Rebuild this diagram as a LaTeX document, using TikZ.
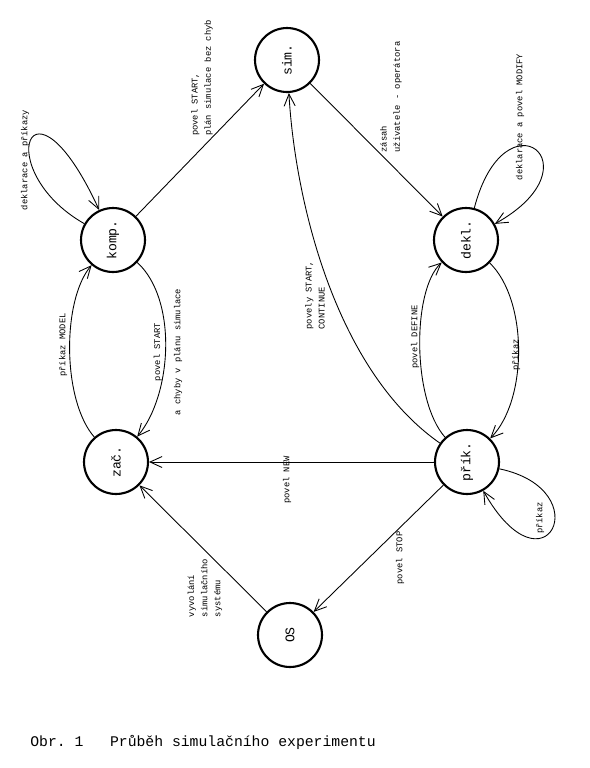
\documentclass[tikz,border=0pt]{standalone}
\usepackage{fontspec}
\setmonofont{Liberation Mono}
\usepackage{graphicx}
\usetikzlibrary{arrows.meta}
\tikzset{
  stav/.style={draw, circle, line width=1.2pt, minimum size=1.28cm, inner sep=0pt,
    font=\fontsize{7.5}{9}\selectfont\ttfamily},
  hrana/.style={line width=0.5pt, -{Straight Barb[length=2.4mm,width=2.2mm]}},
  popis/.style={rotate=90, inner sep=1pt, font=\fontsize{5}{7.5}\selectfont\ttfamily}
}
\begin{document}
\begin{tikzpicture}[x=0.02cm, y=-0.02cm]
\useasboundingbox (0,0) rectangle (589,768);
% stavy
\node[stav] (komp) at (113,240) {\rotatebox{90}{komp.}};
\node[stav] (sim) at (287,60) {\rotatebox{90}{sim.}};
\node[stav] (dekl) at (466,240) {\rotatebox{90}{dekl.}};
\node[stav] (zac) at (116,462) {\rotatebox{90}{zač.}};
\node[stav] (prik) at (467,462) {\rotatebox{90}{přík.}};
\node[stav] (os) at (290,635) {\rotatebox{90}{OS}};
% prechody
\draw[hrana] (komp) -- (sim);
\draw[hrana] (sim) -- (dekl);
\draw[hrana] (prik) -- (zac);
\draw[hrana] (os) -- (zac);
\draw[hrana] (prik) -- (os);
\draw[hrana] (komp) .. controls (178,300) and (172,395) .. (zac);
\draw[hrana] (zac) .. controls (62,400) and (62,300) .. (komp);
\draw[hrana] (dekl) .. controls (528,300) and (528,400) .. (prik);
\draw[hrana] (prik) .. controls (412,400) and (412,290) .. (dekl);
\draw[hrana] (prik) .. controls (335,370) and (295,200) .. (sim);
% smycky
\draw[hrana] (komp) .. controls (-10,170) and (30,60) .. (komp);
\draw[hrana] (dekl) .. controls (505,90) and (600,165) .. (dekl);
\draw[hrana] (prik) .. controls (600,490) and (545,600) .. (prik);
% popisy
\node[popis] (lDekl) at (25,160) {deklarace a příkazy};
\node[popis, align=left] (lStart) at (202,78) {povel START,\\plán simulace bez chyb};
\node[popis, align=left] (lZasah) at (391,97) {zásah\\uživatele - operátora};
\node[popis] (lModify) at (520,117) {deklarace a povel MODIFY};
\node[popis] (lModel) at (63,345) {příkaz MODEL};
\node[popis, align=center] (lChyby) at (168,352) {povel START\\[4pt]a chyby v plánu simulace};
\node[popis, align=left] (lCont) at (315,295) {povely START,\\CONTINUE};
\node[popis] (lDefine) at (415,337) {povel DEFINE};
\node[popis] (lPrikaz) at (516,355) {příkaz};
\node[popis] (lNew) at (287,480) {povel NEW};
\node[popis] (lStop) at (400,558) {povel STOP};
\node[popis, align=left] (lVyvol) at (205,588) {vyvolání\\simulačního\\systému};
\node[popis] (lPrikaz2) at (540,518) {příkaz};
% titulek
\node[anchor=west, inner sep=0pt, font=\fontsize{8.4}{10}\selectfont\ttfamily] (titulek) at (30,742)
  {Obr. 1\hspace{1.8em}Průběh simulačního experimentu};
\end{tikzpicture}
\end{document}
